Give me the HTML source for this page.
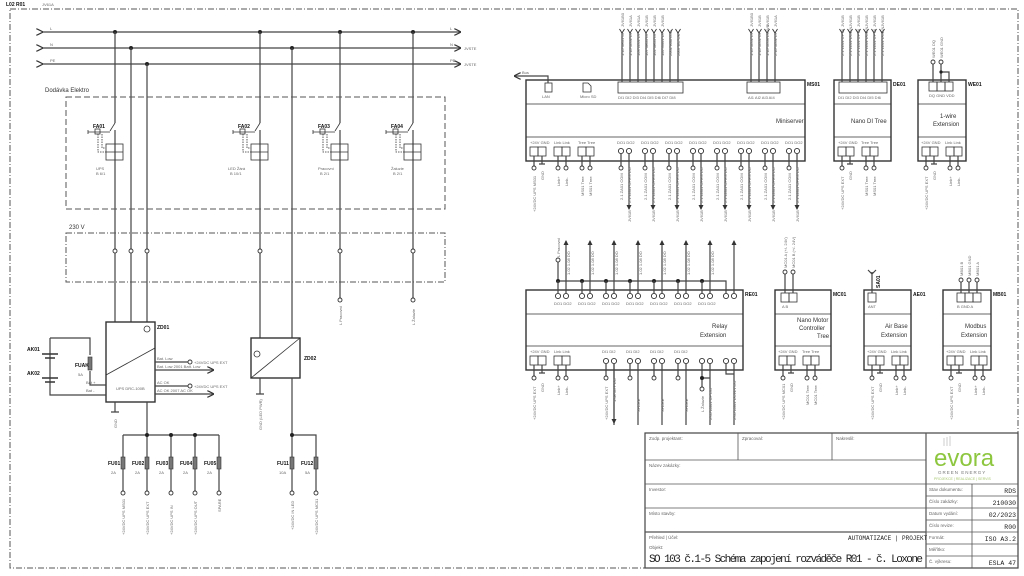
<!DOCTYPE html>
<html><head><meta charset="utf-8"><style>
html,body{margin:0;padding:0;background:#fff}
svg{display:block;font-family:"Liberation Sans",sans-serif}
.w{stroke:#444;stroke-width:1.2;fill:none}
.t{stroke:#333;stroke-width:0.8;fill:none}
.b{stroke:#333;stroke-width:1.4;fill:#fff}
.s{font-size:4px;fill:#666}
.m{font-size:6px;fill:#333}
.l{font-size:5px;fill:#111;font-weight:bold}
.c{fill:#fff;stroke:#333;stroke-width:0.9}
.d{fill:#222}
</style></head><body>
<svg width="1024" height="576" viewBox="0 0 1024 576">
<defs>
<marker id="a" markerWidth="6" markerHeight="6" refX="5" refY="3" orient="auto"><path d="M0,0 L6,3 L0,6" fill="none" stroke="#333" stroke-width="1"/></marker>
<marker id="af" markerUnits="userSpaceOnUse" markerWidth="5" markerHeight="5" refX="4" refY="2.5" orient="auto"><path d="M0,0 L5,2.5 L0,5z" fill="#333"/></marker>
<g id="yf"><path d="M-2.5,-3 L0,1 L2.5,-3" fill="none" stroke="#333" stroke-width="0.9"/></g>
</defs>
<text x="6" y="6" class="l">L02 R01</text><text x="42" y="6" class="s">JV61A</text>
<path d="M10,9 H1018 V568 H10 Z" stroke="#555" stroke-width="1" fill="none" stroke-dasharray="6,2,1,2"/>

<!-- buses -->
<g class="w">
<path d="M42,32 H460" marker-start="url(#a)" marker-end="url(#a)"/>
<path d="M42,48 H460" marker-start="url(#a)" marker-end="url(#a)"/>
<path d="M42,64 H460" marker-start="url(#a)" marker-end="url(#a)"/>
</g>
<text x="50" y="30" class="s">L</text><text x="50" y="46" class="s">N</text><text x="50" y="62" class="s">PE</text>
<text x="450" y="30" class="s">L</text><text x="450" y="46" class="s">N</text><text x="450" y="62" class="s">PE</text>
<text x="464" y="50" class="s">JVSTE</text><text x="464" y="66" class="s">JVSTE</text>
<g class="d"><circle cx="115" cy="32" r="2"/><circle cx="131" cy="48" r="2"/><circle cx="147" cy="64" r="2"/><circle cx="260" cy="32" r="2"/><circle cx="292" cy="48" r="2"/><circle cx="340" cy="32" r="2"/><circle cx="413" cy="32" r="2"/></g>
<g class="w">
<path d="M115,32 V123 M115,130 V322"/><path d="M131,48 V322"/><path d="M147,64 V322"/>
<path d="M260,32 V123 M260,130 V338"/><path d="M292,48 V338"/>
<path d="M340,32 V123 M340,130 V298"/><path d="M413,32 V123 M413,130 V298"/>
</g>
<text x="45" y="92" class="m">Dodávka Elektro</text>
<rect x="66" y="97" width="379" height="112" fill="none" stroke="#555" stroke-width="1" stroke-dasharray="6,3"/>
<g id="br">
<path class="t" d="M115,123 L110,131"/>
<path class="t" d="M88,132 H110 M88,130 V134" />
<rect x="95" y="129" width="5" height="5" class="t"/>
<path class="t" d="M98,134 V152 H106 M102,134 V148 H106" stroke-dasharray="1.5,1"/>
<rect x="106" y="144" width="17" height="16" class="t"/><path class="t" d="M106,152 H123"/>
</g>
<use href="#br" x="145"/><use href="#br" x="225"/><use href="#br" x="298"/>
<text x="93" y="128" class="l">FA01</text><text x="238" y="128" class="l">FA02</text><text x="318" y="128" class="l">FA03</text><text x="391" y="128" class="l">FA04</text>
<text x="96" y="170" class="s">UPS</text><text x="96" y="175" class="s">B 6/1</text>
<text x="228" y="170" class="s">LED Žárá</text><text x="230" y="175" class="s">B 10/1</text>
<text x="318" y="170" class="s">Pracovní</text><text x="320" y="175" class="s">B 2/1</text>
<text x="391" y="170" class="s">Žaluzie</text><text x="393" y="175" class="s">B 2/1</text>

<text x="69" y="229" class="m">230 V</text>
<rect x="66" y="233" width="379" height="49" fill="none" stroke="#555" stroke-width="1" stroke-dasharray="6,2,1,2"/>
<g class="c"><circle cx="115" cy="251" r="2"/><circle cx="131" cy="251" r="2"/><circle cx="147" cy="251" r="2"/><circle cx="260" cy="251" r="2"/><circle cx="340" cy="251" r="2"/><circle cx="413" cy="251" r="2"/><circle cx="340" cy="300" r="2"/><circle cx="413" cy="300" r="2"/></g>
<text transform="translate(342,325) rotate(-90)" class="s">L Pracovní</text>
<text transform="translate(415,325) rotate(-90)" class="s">L Žaluzie</text>

<rect x="106" y="322" width="49" height="80" class="b"/>
<path class="t" d="M106,375 L155,348" stroke-width="1.2"/>
<circle cx="147" cy="329" r="3" class="t"/>
<text x="157" y="329" class="l">ZD01</text>
<text x="116" y="390" class="s">UPS DRC-100B</text>
<text x="86" y="384" class="s">Bat +</text><text x="86" y="392" class="s">Bat -</text>
<text x="157" y="360" class="s">Bat. Low</text><text x="157" y="368" class="s">Bat. Low 2001 Batt. Low</text>
<text x="157" y="384" class="s">AC OK</text><text x="157" y="392" class="s">AC OK 2007 AC OK</text>
<g class="w"><path d="M155,362 H188"/><path d="M155,370 H213" marker-end="url(#a)"/><path d="M155,386 H188"/><path d="M155,394 H213" marker-end="url(#a)"/></g>
<g class="c"><circle cx="190" cy="362" r="2"/><circle cx="190" cy="386" r="2"/></g>
<text x="194" y="364" class="s">+24VDC UPS EXT</text><text x="194" y="388" class="s">+24VDC UPS EXT</text>
<g class="w"><path d="M50,338 H90 V355 M90,371 V385 H106 M50,338 V395 H106"/></g>
<path d="M42,354 H58 M45,358 H55 M42,378 H58 M45,382 H55" stroke="#333" stroke-width="1.5"/>
<rect x="88" y="357" width="4" height="13" fill="#777" stroke="#333" stroke-width="0.6"/>
<text x="27" y="351" class="l">AK01</text><text x="27" y="375" class="l">AK02</text>
<text x="75" y="367" class="l">FUAK</text><text x="78" y="376" class="s">5A</text>
<path class="w" d="M115,402 V412 M111,412 H119"/>
<text transform="translate(117,428) rotate(-90)" class="s">GND</text>
<rect x="251" y="338" width="49" height="40" class="b"/>
<path class="t" d="M251,378 L300,338" stroke-width="1.2"/>
<circle cx="257" cy="354" r="3" class="t"/>
<text x="304" y="360" class="l">ZD02</text>
<path class="w" d="M260,378 V394 M256,394 H264"/>
<text transform="translate(262,430) rotate(-90)" class="s">GND (LED PWR)</text>

<g class="w"><path d="M147,402 V493"/><path d="M123,435 H219"/><path d="M123,435 V493 M171,435 V493 M195,435 V493 M219,435 V493"/>
<path d="M292,378 V493 M292,435 H316 V493"/></g>
<g class="d"><circle cx="147" cy="435" r="2"/><circle cx="171" cy="435" r="2"/><circle cx="195" cy="435" r="2"/><circle cx="292" cy="435" r="2"/></g>
<g fill="#777" stroke="#333" stroke-width="0.6">
<rect x="121" y="457" width="4" height="12"/><rect x="145" y="457" width="4" height="12"/><rect x="169" y="457" width="4" height="12"/><rect x="193" y="457" width="4" height="12"/><rect x="217" y="457" width="4" height="12"/><rect x="290" y="457" width="4" height="12"/><rect x="314" y="457" width="4" height="12"/></g>
<g class="c"><circle cx="123" cy="493" r="2"/><circle cx="147" cy="493" r="2"/><circle cx="171" cy="493" r="2"/><circle cx="195" cy="493" r="2"/><circle cx="219" cy="493" r="2"/><circle cx="292" cy="493" r="2"/><circle cx="316" cy="493" r="2"/></g>
<text x="108" y="465" class="l">FU01</text><text x="132" y="465" class="l">FU02</text><text x="156" y="465" class="l">FU03</text><text x="180" y="465" class="l">FU04</text><text x="204" y="465" class="l">FU05</text><text x="277" y="465" class="l">FU11</text><text x="301" y="465" class="l">FU12</text>
<text x="111" y="474" class="s">2A</text><text x="135" y="474" class="s">2A</text><text x="159" y="474" class="s">2A</text><text x="183" y="474" class="s">2A</text><text x="207" y="474" class="s">2A</text><text x="279" y="474" class="s">10A</text><text x="305" y="474" class="s">5A</text>
<g class="s">
<text transform="translate(125,535) rotate(-90)">+24VDC UPS MS01</text>
<text transform="translate(149,535) rotate(-90)">+24VDC UPS EXT</text>
<text transform="translate(173,535) rotate(-90)">+24VDC UPS IN</text>
<text transform="translate(197,535) rotate(-90)">+24VDC UPS OUT</text>
<text transform="translate(221,512) rotate(-90)">SPARE</text>
<text transform="translate(294,530) rotate(-90)">+24VDC IN LED</text>
<text transform="translate(318,535) rotate(-90)">+24VDC UPS MC01</text>
</g>

<!-- Miniserver -->
<rect x="526" y="80" width="279" height="81" class="b"/>
<path class="t" d="M526,104 H805 M526,137 H805"/>
<text x="807" y="86" class="l">MS01</text>
<text x="776" y="123" class="m">Miniserver</text>
<rect x="545" y="83" width="7" height="9" class="t"/><text x="542" y="98" class="s">LAN</text>
<path class="t" d="M583,83 H588 L591,86 V92 H583 Z"/><text x="580" y="98" class="s">Micro SD</text>
<path class="w" d="M548,83 V76 H515" marker-end="url(#a)"/><text x="522" y="74" class="s">Bus</text>
<rect x="618" y="82" width="65" height="11" class="t"/>
<rect x="747" y="82" width="33" height="11" class="t"/>
<g class="w">
<path d="M622,82 V32 M630,82 V32 M638,82 V32 M646,82 V32 M654,82 V32 M662,82 V32 M670,82 V32 M678,82 V32"/>
<path d="M751,82 V32 M759,82 V32 M767,82 V32 M775,82 V32"/>
</g>
<use href="#yf" x="622" y="32"/><use href="#yf" x="630" y="32"/><use href="#yf" x="638" y="32"/><use href="#yf" x="646" y="32"/><use href="#yf" x="654" y="32"/><use href="#yf" x="662" y="32"/><use href="#yf" x="670" y="32"/><use href="#yf" x="678" y="32"/>
<use href="#yf" x="751" y="32"/><use href="#yf" x="759" y="32"/><use href="#yf" x="767" y="32"/><use href="#yf" x="775" y="32"/>
<g class="s">
<text x="618" y="99">DI1 DI2 DI3 DI4 DI5 DI6 DI7 DI8</text><text x="748" y="99">AI1 AI2 AI3 AI4</text>
<text transform="translate(624,56) rotate(-90)">1.1b 0B01 DI</text><text transform="translate(632,56) rotate(-90)">1.1b 1L01 DI</text><text transform="translate(640,56) rotate(-90)">103 1L01 DI</text><text transform="translate(648,56) rotate(-90)">107 0B01 DI</text><text transform="translate(656,56) rotate(-90)">102 0B01 DI</text><text transform="translate(664,56) rotate(-90)">110 M001 DI</text><text transform="translate(672,56) rotate(-90)">2001 Batt Low</text><text transform="translate(680,56) rotate(-90)">2007 AC OK</text>
<text transform="translate(624,27) rotate(-90)">JV61B0</text><text transform="translate(632,27) rotate(-90)">JV61A</text><text transform="translate(640,27) rotate(-90)">JV61A</text><text transform="translate(648,27) rotate(-90)">JV61B</text><text transform="translate(656,27) rotate(-90)">JV61B</text><text transform="translate(664,27) rotate(-90)">JV61B</text>
<text transform="translate(753,56) rotate(-90)">1.1b 1L01 DI</text><text transform="translate(761,56) rotate(-90)">1.1b 1L01 UP</text><text transform="translate(769,56) rotate(-90)">1.1b 1L03 DOWN</text><text transform="translate(777,56) rotate(-90)">2.1b 1L01 DI</text>
<text transform="translate(753,27) rotate(-90)">JV61B0</text><text transform="translate(761,27) rotate(-90)">JV61B</text><text transform="translate(769,27) rotate(-90)">JV61B</text><text transform="translate(777,27) rotate(-90)">JV61A</text>
</g>
<g class="t">
<rect x="530" y="147" width="8" height="9"/><rect x="538" y="147" width="8" height="9"/>
<rect x="554" y="147" width="8" height="9"/><rect x="562" y="147" width="8" height="9"/>
<rect x="578" y="147" width="8" height="9"/><rect x="586" y="147" width="8" height="9"/>
</g>
<g class="s"><text x="530" y="144">+24V GND</text><text x="554" y="144">Link Link</text><text x="578" y="144">Tree Tree</text></g>
<g class="w"><path d="M534,156 V166 M542,156 V164 M539,164 H545 M558,156 V166 M566,156 V166 M582,156 V166 M590,156 V166"/></g>
<g class="c"><circle cx="534" cy="168" r="2"/><circle cx="558" cy="168" r="2"/><circle cx="566" cy="168" r="2"/><circle cx="582" cy="168" r="2"/><circle cx="590" cy="168" r="2"/></g>
<g class="s"><text transform="translate(536,212) rotate(-90)">+24VDC UPS MS01</text><text transform="translate(544,180) rotate(-90)">GND</text><text transform="translate(560,186) rotate(-90)">Link+</text><text transform="translate(568,186) rotate(-90)">Link-</text><text transform="translate(584,196) rotate(-90)">MS01 Tree</text><text transform="translate(592,196) rotate(-90)">MS01 Tree</text></g>
<g id="dop">
<text x="617" y="144" class="s">DO1 DO2</text>
<circle cx="621" cy="151" r="2.6" class="c"/><circle cx="629" cy="151" r="2.6" class="c"/>
<path class="w" d="M621,154 V166 M629,154 V209" marker-end="url(#af)"/>
<circle cx="621" cy="168" r="2" class="c"/>
<text transform="translate(623,200) rotate(-90)" class="s">2.1 ZA01 COM</text>
<text transform="translate(631,203) rotate(-90)" class="s">2.1 ZA01 OPEN DO</text>
<text transform="translate(631,222) rotate(-90)" class="s">JV61B</text>
</g>
<use href="#dop" x="24"/><use href="#dop" x="48"/><use href="#dop" x="72"/><use href="#dop" x="96"/><use href="#dop" x="120"/><use href="#dop" x="144"/><use href="#dop" x="168"/>

<!-- DE01 -->
<rect x="834" y="80" width="57" height="81" class="b"/>
<path class="t" d="M834,104 H891 M834,137 H891"/>
<rect x="839" y="82" width="48" height="11" class="t"/>
<text x="893" y="86" class="l">DE01</text><text x="851" y="123" class="m">Nano DI Tree</text>
<g class="w"><path d="M842,82 V32 M850,82 V32 M858,82 V32 M866,82 V32 M874,82 V32 M882,82 V32"/></g>
<use href="#yf" x="842" y="32"/><use href="#yf" x="850" y="32"/><use href="#yf" x="858" y="32"/><use href="#yf" x="866" y="32"/><use href="#yf" x="874" y="32"/><use href="#yf" x="882" y="32"/>
<g class="s"><text x="838" y="99">DI1 DI2 DI3 DI4 DI5 DI6</text>
<text transform="translate(844,56) rotate(-90)">2.1 1L01 UP DI</text><text transform="translate(852,56) rotate(-90)">2.1 1L01 DOWN</text><text transform="translate(860,56) rotate(-90)">2.1 1L01 UP DI</text><text transform="translate(868,56) rotate(-90)">2.1 1L01 DOWN</text><text transform="translate(876,56) rotate(-90)">2.1 1L01 UP DI</text><text transform="translate(884,56) rotate(-90)">2.1 1L01 DOWN</text>
<text transform="translate(844,27) rotate(-90)">JV61B</text><text transform="translate(852,27) rotate(-90)">JV61B</text><text transform="translate(860,27) rotate(-90)">JV61B</text><text transform="translate(868,27) rotate(-90)">JV61B</text><text transform="translate(876,27) rotate(-90)">JV61B</text><text transform="translate(884,27) rotate(-90)">JV61B</text>
<text x="838" y="144">+24V GND</text><text x="861" y="144">Tree Tree</text></g>
<g class="t"><rect x="838" y="147" width="8" height="9"/><rect x="846" y="147" width="8" height="9"/><rect x="862" y="147" width="8" height="9"/><rect x="870" y="147" width="8" height="9"/></g>
<g class="w"><path d="M842,156 V166 M850,156 V164 M847,164 H853 M866,156 V166 M874,156 V166"/></g>
<g class="c"><circle cx="842" cy="168" r="2"/><circle cx="866" cy="168" r="2"/><circle cx="874" cy="168" r="2"/></g>
<g class="s"><text transform="translate(844,210) rotate(-90)">+24VDC UPS EXT</text><text transform="translate(852,180) rotate(-90)">GND</text><text transform="translate(868,196) rotate(-90)">MS01 Tree</text><text transform="translate(876,196) rotate(-90)">MS01 Tree</text></g>

<!-- WE01 -->
<rect x="918" y="80" width="48" height="81" class="b"/>
<path class="t" d="M918,104 H966 M918,137 H966"/>
<g class="t"><rect x="929" y="82" width="8" height="9"/><rect x="937" y="82" width="8" height="9"/><rect x="945" y="82" width="8" height="9"/></g>
<text x="968" y="86" class="l">WE01</text><text x="940" y="118" class="m">1-wire</text><text x="933" y="126" class="m">Extension</text>
<g class="w"><path d="M933,82 V64 M941,82 V64 M941,72 H949 V82"/></g>
<circle cx="941" cy="72" r="1.6" class="d"/>
<g class="c"><circle cx="933" cy="62" r="2"/><circle cx="941" cy="62" r="2"/></g>
<g class="s"><text x="929" y="97">DQ GND VDD</text><text transform="translate(935,58) rotate(-90)">WE01 DQ</text><text transform="translate(943,58) rotate(-90)">WE01 GND</text>
<text x="921" y="144">+24V GND</text><text x="945" y="144">Link Link</text></g>
<g class="t"><rect x="922" y="147" width="8" height="9"/><rect x="930" y="147" width="8" height="9"/><rect x="946" y="147" width="8" height="9"/><rect x="954" y="147" width="8" height="9"/></g>
<g class="w"><path d="M926,156 V166 M934,156 V164 M931,164 H937 M950,156 V166 M958,156 V166"/></g>
<g class="c"><circle cx="926" cy="168" r="2"/><circle cx="950" cy="168" r="2"/><circle cx="958" cy="168" r="2"/></g>
<g class="s"><text transform="translate(928,210) rotate(-90)">+24VDC UPS EXT</text><text transform="translate(936,180) rotate(-90)">GND</text><text transform="translate(952,186) rotate(-90)">Link+</text><text transform="translate(960,186) rotate(-90)">Link-</text></g>

<!-- RE01 -->
<rect x="526" y="290" width="217" height="80" class="b"/>
<path class="t" d="M526,314 H743 M526,346 H743"/>
<text x="745" y="296" class="l">RE01</text>
<text x="712" y="328" class="m">Relay</text><text x="700" y="337" class="m">Extension</text>
<path class="w" d="M558,281 H726 V293"/>
<path class="w" d="M558,281 V262"/><circle cx="558" cy="260" r="2" class="c"/>
<text transform="translate(560,257) rotate(-90)" class="s">L Pracovní</text>
<g id="rp">
<circle cx="558" cy="281" r="2" class="d"/>
<circle cx="558" cy="296" r="2.6" class="c"/><circle cx="566" cy="296" r="2.6" class="c"/>
<path class="w" d="M558,281 V293 M566,293 V241" marker-end="url(#af)"/>
<text x="554" y="305" class="s">DO1 DO2</text>
<text transform="translate(570,275) rotate(-90)" class="s">1.02 1.08 DO</text>
</g>
<use href="#rp" x="24"/><use href="#rp" x="48"/><use href="#rp" x="72"/><use href="#rp" x="96"/><use href="#rp" x="120"/><use href="#rp" x="144"/>
<circle cx="726" cy="296" r="2.6" class="c"/><circle cx="734" cy="296" r="2.6" class="c"/>
<path class="w" d="M734,293 V241" marker-end="url(#af)"/>
<g class="t"><rect x="530" y="356" width="8" height="9"/><rect x="538" y="356" width="8" height="9"/><rect x="554" y="356" width="8" height="9"/><rect x="562" y="356" width="8" height="9"/></g>
<g class="s"><text x="530" y="353">+24V GND</text><text x="554" y="353">Link Link</text></g>
<g class="w"><path d="M534,365 V376 M542,365 V373 M539,373 H545 M558,365 V376 M566,365 V376"/></g>
<g class="c"><circle cx="534" cy="378" r="2"/><circle cx="558" cy="378" r="2"/><circle cx="566" cy="378" r="2"/></g>
<g class="s"><text transform="translate(536,420) rotate(-90)">+24VDC UPS EXT</text><text transform="translate(544,392) rotate(-90)">GND</text><text transform="translate(560,395) rotate(-90)">Link+</text><text transform="translate(568,395) rotate(-90)">Link-</text></g>
<g id="rb">
<circle cx="606" cy="361" r="2.6" class="c"/><circle cx="614" cy="361" r="2.6" class="c"/>
<text x="602" y="353" class="s">DI1 DI2</text>
<path class="w" d="M606,364 V376 M614,364 V425"/>
<circle cx="606" cy="378" r="2" class="c"/>
</g>
<use href="#rb" x="24"/><use href="#rb" x="48"/><use href="#rb" x="72"/>
<path class="w" d="M614,364 V423" marker-end="url(#af)"/>
<path class="w" d="M702,364 V378 H710 M702,378 V387 M710,364 V425 M726,364 V374 H734 M734,364 V425"/>
<circle cx="702" cy="378" r="2" class="d"/><circle cx="702" cy="389" r="2" class="c"/>
<circle cx="702" cy="361" r="2.6" class="c"/><circle cx="710" cy="361" r="2.6" class="c"/><circle cx="726" cy="361" r="2.6" class="c"/><circle cx="734" cy="361" r="2.6" class="c"/>
<g class="s"><text transform="translate(608,420) rotate(-90)">+24VDC UPS EXT</text><text transform="translate(616,402) rotate(-90)">1.08 1DY DO</text><text transform="translate(640,412) rotate(-90)">SPARE</text><text transform="translate(664,412) rotate(-90)">SPARE</text><text transform="translate(688,412) rotate(-90)">SPARE</text><text transform="translate(704,412) rotate(-90)">L Žaluzie</text><text transform="translate(712,420) rotate(-90)">2.05 ZA01 UP DO</text><text transform="translate(736,420) rotate(-90)">2.05 ZA01 DOWN DO</text></g>

<!-- MC01 -->
<rect x="775" y="290" width="56" height="80" class="b"/>
<path class="t" d="M775,314 H831 M775,346 H831"/>
<g class="t"><rect x="781" y="293" width="8" height="9"/><rect x="789" y="293" width="8" height="9"/></g>
<path class="w" d="M785,293 V274 M793,293 V274"/><g class="c"><circle cx="785" cy="272" r="2"/><circle cx="793" cy="272" r="2"/></g>
<g class="s"><text transform="translate(787,268) rotate(-90)">MC01 A (+/- 24V)</text><text transform="translate(795,268) rotate(-90)">MC01 B (+/- 24V)</text><text x="782" y="308">A    B</text></g>
<text x="833" y="296" class="l">MC01</text>
<text x="797" y="322" class="m">Nano Motor</text><text x="799" y="330" class="m">Controller</text><text x="817" y="338" class="m">Tree</text>
<g class="t"><rect x="779" y="356" width="8" height="9"/><rect x="787" y="356" width="8" height="9"/><rect x="803" y="356" width="8" height="9"/><rect x="811" y="356" width="8" height="9"/></g>
<g class="s"><text x="778" y="353">+24V GND</text><text x="802" y="353">Tree Tree</text></g>
<g class="w"><path d="M783,365 V376 M791,365 V373 M788,373 H794 M807,365 V376 M815,365 V376"/></g>
<g class="c"><circle cx="783" cy="378" r="2"/><circle cx="807" cy="378" r="2"/><circle cx="815" cy="378" r="2"/></g>
<g class="s"><text transform="translate(785,420) rotate(-90)">+24VDC UPS MC01</text><text transform="translate(793,392) rotate(-90)">GND</text><text transform="translate(809,405) rotate(-90)">MC01 Tree</text><text transform="translate(817,405) rotate(-90)">MC01 Tree</text></g>

<!-- AE01 -->
<rect x="864" y="290" width="47" height="80" class="b"/>
<path class="t" d="M864,314 H911 M864,346 H911"/>
<rect x="868" y="293" width="8" height="9" class="t"/>
<path class="w" d="M872,293 V272 M868,270 L872,274 L876,270"/>
<text transform="translate(880,288) rotate(-90)" class="l">SA01</text>
<text x="868" y="308" class="s">ANT</text>
<text x="913" y="296" class="l">AE01</text>
<text x="885" y="328" class="m">Air Base</text><text x="881" y="337" class="m">Extension</text>
<g class="t"><rect x="868" y="356" width="8" height="9"/><rect x="876" y="356" width="8" height="9"/><rect x="892" y="356" width="8" height="9"/><rect x="900" y="356" width="8" height="9"/></g>
<g class="s"><text x="867" y="353">+24V GND</text><text x="891" y="353">Link Link</text></g>
<g class="w"><path d="M872,365 V376 M880,365 V373 M877,373 H883 M896,365 V376 M904,365 V376"/></g>
<g class="c"><circle cx="872" cy="378" r="2"/><circle cx="896" cy="378" r="2"/><circle cx="904" cy="378" r="2"/></g>
<g class="s"><text transform="translate(874,420) rotate(-90)">+24VDC UPS EXT</text><text transform="translate(882,392) rotate(-90)">GND</text><text transform="translate(898,395) rotate(-90)">Link+</text><text transform="translate(906,395) rotate(-90)">Link-</text></g>

<!-- MB01 -->
<rect x="943" y="290" width="48" height="80" class="b"/>
<path class="t" d="M943,314 H991 M943,346 H991"/>
<g class="t"><rect x="957" y="293" width="8" height="9"/><rect x="965" y="293" width="8" height="9"/><rect x="973" y="293" width="8" height="9"/></g>
<path class="w" d="M961,293 V282 M969,293 V282 M977,293 V282"/><g class="c"><circle cx="961" cy="280" r="2"/><circle cx="969" cy="280" r="2"/><circle cx="977" cy="280" r="2"/></g>
<g class="s"><text transform="translate(963,276) rotate(-90)">MB01 B</text><text transform="translate(971,276) rotate(-90)">MB01 GND</text><text transform="translate(979,276) rotate(-90)">MB01 A</text><text x="957" y="308">B GND A</text></g>
<text x="993" y="296" class="l">MB01</text>
<text x="965" y="328" class="m">Modbus</text><text x="961" y="337" class="m">Extension</text>
<g class="t"><rect x="947" y="356" width="8" height="9"/><rect x="955" y="356" width="8" height="9"/><rect x="971" y="356" width="8" height="9"/><rect x="979" y="356" width="8" height="9"/></g>
<g class="s"><text x="946" y="353">+24V GND</text><text x="970" y="353">Link Link</text></g>
<g class="w"><path d="M951,365 V376 M959,365 V373 M956,373 H962 M975,365 V376 M983,365 V376"/></g>
<g class="c"><circle cx="951" cy="378" r="2"/><circle cx="975" cy="378" r="2"/><circle cx="983" cy="378" r="2"/></g>
<g class="s"><text transform="translate(953,420) rotate(-90)">+24VDC UPS EXT</text><text transform="translate(961,392) rotate(-90)">GND</text><text transform="translate(977,395) rotate(-90)">Link+</text><text transform="translate(985,395) rotate(-90)">Link-</text></g>

<!-- title block -->
<rect x="645" y="433" width="373" height="135" fill="#fff" stroke="#444" stroke-width="1.2"/>
<g stroke="#555" stroke-width="0.8" fill="none">
<path d="M926,433 V568" stroke-width="1.2"/>
<path d="M645,460 H926 M738,433 V460 M832,433 V460"/>
<path d="M645,484 H1018 M645,508 H926"/>
<path d="M645,532 H926" stroke-width="1.2"/>
<path d="M926,496 H1018 M926,508 H1018 M926,520 H1018 M926,532 H1018 M926,544 H1018 M926,556 H1018 M972,484 V568"/>
</g>
<g class="s" style="font-size:4.5px">
<text x="649" y="440">Zodp. projektant:</text><text x="742" y="440">Zpracoval:</text><text x="836" y="440">Nakreslil:</text>
<text x="649" y="467">Název zakázky:</text><text x="649" y="491">Investor:</text><text x="649" y="515">Místo stavby:</text>
<text x="649" y="539">Přehled | Účel:</text><text x="649" y="549">Objekt:</text>
<text x="929" y="491">Stav dokumentu:</text><text x="929" y="503">Číslo zakázky:</text><text x="929" y="515">Datum vydání:</text><text x="929" y="527">Číslo revize:</text><text x="929" y="539">Formát:</text><text x="929" y="551">Měřítko:</text><text x="929" y="563">Č. výkresu:</text>
</g>
<text x="848" y="540" style="font-size:6px;fill:#222;font-family:'Liberation Mono',monospace">AUTOMATIZACE | PROJEKT</text>
<text x="649" y="562" style="font-size:11px;fill:#222;font-family:'Liberation Mono',monospace" textLength="274">SO 103 č.1-5 Schéma zapojení rozváděče R01 - č. Loxone</text>
<g style="font-size:6.5px;fill:#222;font-family:'Liberation Mono',monospace" text-anchor="end">
<text x="1016" y="493">RDS</text><text x="1016" y="505">210030</text><text x="1016" y="517">02/2023</text><text x="1016" y="529">R00</text><text x="1016" y="541">ISO A3.2</text><text x="1016" y="565">ESLA 47</text></g>
<text x="934" y="466" style="font-size:24px;fill:#8dc63f">evora</text>
<text x="938" y="474" style="font-size:4.5px;fill:#777;letter-spacing:1px">GREEN ENERGY</text>
<text x="934" y="480" style="font-size:3.5px;fill:#a8c870">PROJEKCE | REALIZACE | SERVIS</text>
<path d="M944,438 l0,8 M947,437 l0,9 M950,436 l0,10" stroke="#ccc" stroke-width="1"/>
</svg>
</body></html>
